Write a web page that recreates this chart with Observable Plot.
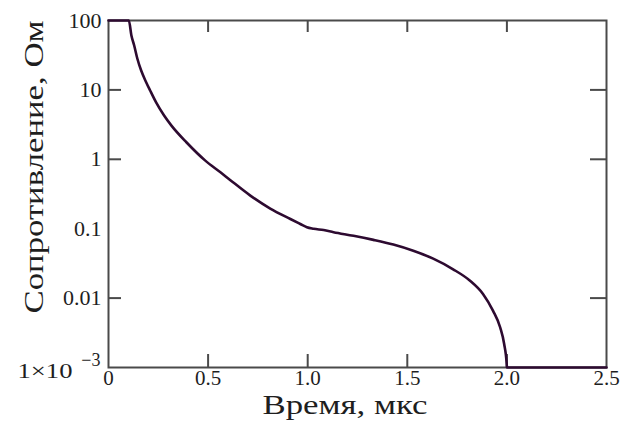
<!DOCTYPE html>
<html>
<head>
<meta charset="utf-8">
<script src="https://cdn.jsdelivr.net/npm/d3@7"></script>
<script src="https://cdn.jsdelivr.net/npm/@observablehq/plot@0.6"></script>
<style>
  html, body { margin: 0; padding: 0; background: #fff; }
  #chart svg { display: block; }
</style>
</head>
<body>
<div id="chart"></div>
<script>
// Time, µs
const time = [0, 0.102, 0.115, 0.129, 0.145, 0.164, 0.189, 0.209, 0.239, 0.279, 0.316, 0.391, 0.486, 0.562,
  0.612, 0.712, 0.812, 0.913, 0.963, 0.996, 1.03, 1.08, 1.13, 1.23, 1.33, 1.43, 1.53, 1.63, 1.73,
  1.815, 1.88, 1.93, 1.966, 1.986, 1.999, 2.0, 2.5];
// Resistance, Ohm
const resistance = [100, 100, 60.8, 43.6, 28.1, 19.0, 12.9, 9.8, 6.6, 4.27, 3.06, 1.76, 0.957, 0.65,
  0.50, 0.30, 0.195, 0.138, 0.117, 0.105, 0.1, 0.0955, 0.089, 0.079, 0.069, 0.059, 0.048, 0.037, 0.026,
  0.0178, 0.0115, 0.0066, 0.0038, 0.0022, 0.00112, 0.001, 0.001];

const xTickValues = [0, 0.5, 1.0, 1.5, 2.0, 2.5];
const xTickLabels = ["0", "0.5", "1.0", "1.5", "2.0", "2.5"];
const xInnerTicks = [0.5, 1.0, 1.5, 2.0];
const yTickValues = [100, 10, 1, 0.1, 0.01];
const yTickLabels = ["100", "10", "1", "0.1", "0.01"];
const yInnerTicks = [10, 1, 0.01];
const yMinValue = 0.001;
const yMinMantissa = "1×10";
const yMinExponent = "−3";
const xTitle = "Время, мкс";
const yTitle = "Сопротивление, Ом";

const data = time.map((t, i) => ({t, r: resistance[i]}));

const W = 625, H = 439, mL = 108, mR = 19, mT = 20, mB = 72;
const innerW = W - mL - mR, innerH = H - mT - mB;
const axisColor = "#4a4a4a";
const font = "'Liberation Serif', 'Times New Roman', serif";
const textColor = "#1e1e1e";

const chart = Plot.plot({
  width: W,
  height: H,
  marginLeft: mL,
  marginRight: mR,
  marginTop: mT,
  marginBottom: mB,
  style: {fontFamily: font, background: "#fff"},
  x: {domain: [0, 2.5], axis: null},
  y: {type: "log", domain: [0.001, 100], axis: null},
  marks: [
    Plot.frame({stroke: axisColor, strokeWidth: 2}),
    // inward ticks
    Plot.tickX(xInnerTicks, {x: d => d, stroke: axisColor, strokeWidth: 2, insetTop: innerH - 13}),
    Plot.tickX(xInnerTicks, {x: d => d, stroke: axisColor, strokeWidth: 2, insetBottom: innerH - 12}),
    Plot.tickY(yInnerTicks, {y: d => d, stroke: axisColor, strokeWidth: 2, insetRight: innerW - 13}),
    Plot.tickY(yInnerTicks, {y: d => d, stroke: axisColor, strokeWidth: 2, insetLeft: innerW - 16}),
    // curve
    Plot.line(data, {x: "t", y: "r", stroke: "#2d0a30", strokeWidth: 2.6, curve: "monotone-x"}),
    // x tick labels
    Plot.text(xTickValues, {x: d => d, text: (d, i) => xTickLabels[i], frameAnchor: "bottom",
      dy: 17, fontSize: 21, fill: textColor}),
    // y tick labels
    Plot.text(yTickValues, {y: d => d, text: (d, i) => yTickLabels[i], frameAnchor: "left",
      textAnchor: "end", dx: -7, fontSize: 22, fill: textColor}),
    Plot.text([yMinValue], {y: d => d, text: () => yMinMantissa, frameAnchor: "left",
      textAnchor: "start", dx: -91, dy: 3, fontSize: 22, fill: textColor}),
    Plot.text([yMinValue], {y: d => d, text: () => yMinExponent, frameAnchor: "left",
      textAnchor: "end", dx: -8, dy: -7, fontSize: 18, fill: textColor}),
    // axis titles
    Plot.text([xTitle], {text: d => d, frameAnchor: "bottom", textAnchor: "start", dx: -95, dy: 46,
      fontSize: 26.5, fill: textColor}),
    Plot.text([yTitle], {text: d => d, frameAnchor: "left", textAnchor: "start", rotate: -90,
      dx: -74, dy: 119.5, fontSize: 27, fill: textColor})
  ]
});

// stretch texts to the widths they have in the reference
const stretch = {[xTitle]: 165, [yTitle]: 293, [yMinMantissa]: 55};
chart.querySelectorAll("text").forEach(el => {
  const len = stretch[el.textContent];
  if (len) {
    el.setAttribute("textLength", len);
    el.setAttribute("lengthAdjust", "spacingAndGlyphs");
  }
});

document.getElementById("chart").appendChild(chart);
</script>
</body>
</html>
